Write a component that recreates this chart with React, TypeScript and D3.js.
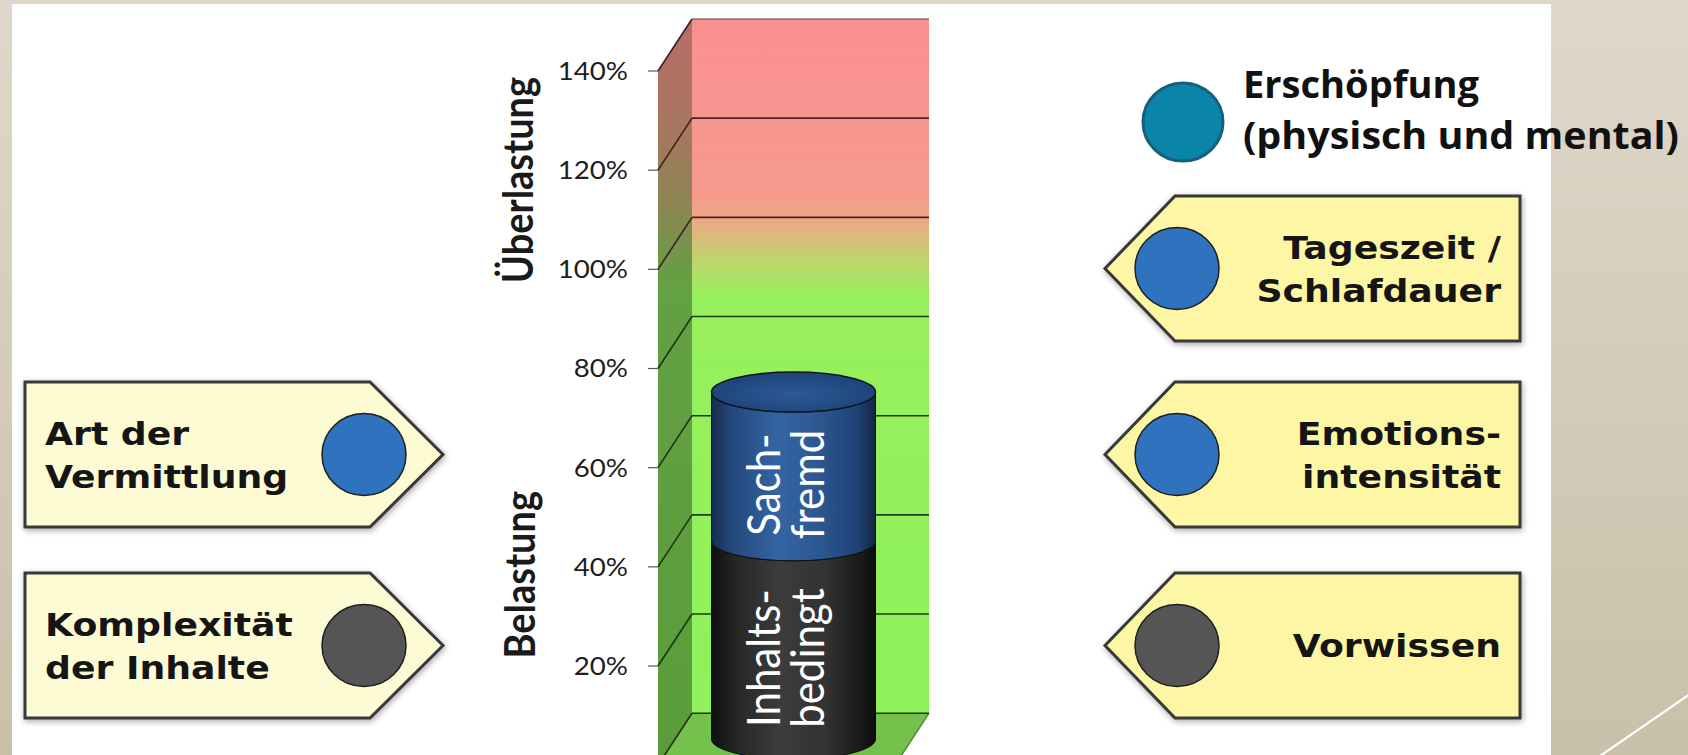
import React from 'react';
import * as d3 from 'd3';

const W = 1688;
const H = 755;

// ---- data ----
const gridValues = [0, 20, 40, 60, 80, 100, 120, 140];
const tickValues = [20, 40, 60, 80, 100, 120, 140];
const tickLabels = ['20%', '40%', '60%', '80%', '100%', '120%', '140%'];
const axisTitles = ['Belastung', 'Überlastung'];
const axisTitleCenters = [38.4, 118];
const category = ['Belastung'];
const segmentKeys = ['inhalt', 'sach'];
const segmentNames = [['Inhalts-', 'bedingt'], ['Sach-', 'fremd']];
const segmentValues = [40, 30];
const leftBoxLabels = [['Art der', 'Vermittlung'], ['Komplexität', 'der Inhalte']];
const leftBoxRows = [1, 2];
const leftBoxDots = ['blue', 'gray'];
const rightBoxLabels = [['Tageszeit /', 'Schlafdauer'], ['Emotions-', 'intensität'], ['Vorwissen']];
const rightBoxRows = [0, 1, 2];
const rightBoxDots = ['blue', 'blue', 'gray'];
const legendLabel = ['Erschöpfung', '(physisch und mental)'];

const DOT_COLORS: Record<string, string> = { blue: '#2f72bd', gray: '#555555' };

export default function App() {
  React.useEffect(() => {
    document.body.style.margin = '0';
    document.body.style.overflow = 'hidden';
  }, []);

  // vertical value scale on the front plane of the 3D chart
  const y = d3.scaleLinear().domain([0, 140]).range([765.2, 71]);
  const DX = 34;
  const DY = -52;
  const xF0 = 658;
  const xF1 = 895;
  const xB0 = xF0 + DX;
  const xB1 = xF1 + DX;
  const yB = (v: number) => y(v) + DY;
  const yM = (v: number) => y(v) + DY / 2;

  const xBand = d3
    .scaleBand<string>()
    .domain(category)
    .range([xF0 + DX / 2, xF1 + DX / 2])
    .paddingOuter(0.2226)
    .paddingInner(0);
  const cylX0 = xBand(category[0]) as number;
  const cylW = xBand.bandwidth();
  const cylCx = cylX0 + cylW / 2;
  const rx = cylW / 2;
  const ry = 20;

  const row: Record<string, number> = {};
  segmentKeys.forEach((k, i) => (row[k] = segmentValues[i]));
  const stacked = d3.stack<Record<string, number>>().keys(segmentKeys)([row]);

  // boxes
  const rowTop = d3.scaleLinear().domain([0, 1, 2]).range([196, 382, 573]);
  const BOX_H = 145;
  const leftRect = [25, 370];
  const leftTip = 443;
  const rightRect = [1175, 1520];
  const rightTip = 1105;

  const leftBoxPath = (top: number) =>
    `M${leftRect[0]},${top} L${leftRect[1]},${top} L${leftTip},${top + BOX_H / 2} L${leftRect[1]},${top + BOX_H} L${leftRect[0]},${top + BOX_H} Z`;
  const rightBoxPath = (top: number) =>
    `M${rightRect[1]},${top} L${rightRect[0]},${top} L${rightTip},${top + BOX_H / 2} L${rightRect[0]},${top + BOX_H} L${rightRect[1]},${top + BOX_H} Z`;

  const bodyPath = (v0: number, v1: number) => {
    const yt = yM(v1);
    const yb = yM(v0);
    const l = cylCx - rx;
    const r = cylCx + rx;
    return `M${l},${yt} A${rx},${ry} 0 0 0 ${r},${yt} L${r},${yb} A${rx},${ry} 0 0 1 ${l},${yb} Z`;
  };

  const boxText = (lines: string[], top: number, anchor: 'start' | 'end', x: number) => {
    const center = top + BOX_H / 2;
    const lh = 43;
    const first = center + 11.5 - ((lines.length - 1) * lh) / 2;
    return lines.map((t, i) => (
      <text
        key={t}
        transform={`translate(${x},${first + i * lh}) scale(1.15,1)`}
        textAnchor={anchor}
        fontFamily="'DejaVu Sans', Verdana, sans-serif"
        fontWeight="bold"
        fontSize={31.5}
        fill="#151515"
      >
        {t}
      </text>
    ));
  };

  return (
    <svg
      width={W}
      height={H}
      viewBox={`0 0 ${W} ${H}`}
      style={{ position: 'absolute', left: 0, top: 0, display: 'block' }}
    >
      <defs>
        <linearGradient id="bg" x1="0" y1="0" x2="0" y2="1">
          <stop offset="0" stopColor="#dfd8ca" />
          <stop offset="1" stopColor="#c9c0a9" />
        </linearGradient>
        <linearGradient id="backWall" gradientUnits="userSpaceOnUse" x1="0" y1={yB(140)} x2="0" y2={yB(0)}>
          <stop offset="0" stopColor="#fa9090" />
          <stop offset={(195 - 19) / 694} stopColor="#f69a8e" />
          <stop offset={(222 - 19) / 694} stopColor="#ebab82" />
          <stop offset={(255 - 19) / 694} stopColor="#c4d070" />
          <stop offset={(295 - 19) / 694} stopColor="#97ef5c" />
          <stop offset="1" stopColor="#8ef25a" />
        </linearGradient>
        <linearGradient id="sideWall" gradientUnits="userSpaceOnUse" x1="0" y1={yB(140)} x2="0" y2={y(0)}>
          <stop offset="0" stopColor="#b86e68" />
          <stop offset={(130 - 19) / 746} stopColor="#a8775f" />
          <stop offset={(210 - 19) / 746} stopColor="#8a8752" />
          <stop offset={(280 - 19) / 746} stopColor="#64a044" />
          <stop offset="1" stopColor="#5a9c3a" />
        </linearGradient>
        <linearGradient id="cyl-sach" x1="0" y1="0" x2="1" y2="0">
          <stop offset="0" stopColor="#162d4e" />
          <stop offset="0.12" stopColor="#23467a" />
          <stop offset="0.4" stopColor="#3465a3" />
          <stop offset="0.62" stopColor="#2d5a94" />
          <stop offset="0.88" stopColor="#214477" />
          <stop offset="1" stopColor="#132744" />
        </linearGradient>
        <linearGradient id="cyl-inhalt" x1="0" y1="0" x2="1" y2="0">
          <stop offset="0" stopColor="#101010" />
          <stop offset="0.15" stopColor="#262626" />
          <stop offset="0.42" stopColor="#3c3c3c" />
          <stop offset="0.7" stopColor="#323232" />
          <stop offset="1" stopColor="#0e0e0e" />
        </linearGradient>
        <radialGradient id="cylTop" cx="0.5" cy="0.55" r="0.6">
          <stop offset="0" stopColor="#2b5a96" />
          <stop offset="1" stopColor="#1d4175" />
        </radialGradient>
        <filter id="boxShadow" x="-10%" y="-10%" width="120%" height="125%">
          <feGaussianBlur in="SourceAlpha" stdDeviation="3" />
          <feOffset dx="1" dy="2" result="b" />
          <feComponentTransfer>
            <feFuncA type="linear" slope="0.35" />
          </feComponentTransfer>
          <feMerge>
            <feMergeNode />
            <feMergeNode in="SourceGraphic" />
          </feMerge>
        </filter>
      </defs>

      {/* background */}
      <rect x={0} y={0} width={W} height={H} fill="url(#bg)" />
      <rect x={12} y={4} width={1551 - 12} height={H - 4} fill="#ffffff" />
      <line x1={1600} y1={756} x2={1690} y2={694} stroke="#ffffff" strokeWidth={2.2} />

      {/* 3D chart walls */}
      <polygon
        points={`${xB0},${yB(140)} ${xB1},${yB(140)} ${xB1},${yB(0)} ${xB0},${yB(0)}`}
        fill="url(#backWall)"
      />
      <polygon
        points={`${xF0},${y(140)} ${xB0},${yB(140)} ${xB0},${yB(0)} ${xF0},${y(0)}`}
        fill="url(#sideWall)"
      />
      <polygon
        points={`${xF0},${y(0)} ${xB0},${yB(0)} ${xB1},${yB(0)} ${xF1},${y(0)}`}
        fill="#74c14b"
      />
      <line x1={xB1} y1={yB(0)} x2={xF1} y2={y(0)} stroke="#4e8a30" strokeWidth={1.5} />

      {/* gridlines */}
      {gridValues.map((v) => (
        <g key={`g${v}`}>
          {v < 140 && (
            <line
              x1={xB0}
              x2={xB1}
              y1={yB(v)}
              y2={yB(v)}
              stroke={v >= 100 ? '#4a2424' : '#203818'}
              strokeWidth={1.6}
            />
          )}
          <line x1={xF0} y1={y(v)} x2={xB0} y2={yB(v)} stroke={v >= 100 ? '#3a2020' : '#1e3414'} strokeWidth={1.6} />
          <line x1={xF0 - 10} x2={xF0} y1={y(v)} y2={y(v)} stroke="#555" strokeWidth={1.2} />
        </g>
      ))}
      <line x1={xB0} x2={xB1} y1={yB(140)} y2={yB(140)} stroke="#5a3a3a" strokeWidth={1.2} />

      {/* axis tick labels */}
      {tickValues.map((v, i) => (
        <text
          key={`t${v}`}
          transform={`translate(628,${y(v)}) scale(1.13,1)`}
          dy="0.36em"
          textAnchor="end"
          fontFamily="Lato, 'Open Sans', sans-serif"
          fontSize={24.5}
          fill="#1e1e1e"
        >
          {tickLabels[i]}
        </text>
      ))}

      {/* axis titles */}
      {axisTitles.map((t, i) => (
        <text
          key={t}
          transform={`translate(${i === 0 ? 535 : 533},${y(axisTitleCenters[i])}) scale(1.13,1) rotate(-90)`}
          textAnchor="middle"
          fontFamily="Lato, 'Open Sans', sans-serif"
          fontWeight="bold"
          fontSize={38}
          fill="#1a1a1a"
        >
          {t}
        </text>
      ))}

      {/* cylinder */}
      {stacked.map((s, i) => {
        const [v0, v1] = s[0];
        const mid = (yM(v0) + yM(v1)) / 2 + 18;
        return (
          <g key={s.key}>
            <path d={bodyPath(v0, v1)} fill={`url(#cyl-${s.key})`} stroke="#0c0c0c" strokeWidth={1} />
            {segmentNames[i].map((ln, j) => (
              <text
                key={ln}
                transform={`translate(${cylCx - 14 + j * 44},${mid}) scale(1.1,1) rotate(-90)`}
                textAnchor="middle"
                fontFamily="Lato, 'Open Sans', sans-serif"
                fontSize={42}
                fill="#ffffff"
              >
                {ln}
              </text>
            ))}
          </g>
        );
      })}
      <ellipse
        cx={cylCx}
        cy={yM(stacked[stacked.length - 1][0][1])}
        rx={rx}
        ry={ry}
        fill="url(#cylTop)"
        stroke="#0c1624"
        strokeWidth={1.5}
      />

      {/* left boxes */}
      {leftBoxLabels.map((lines, i) => {
        const top = rowTop(leftBoxRows[i]);
        return (
          <g key={lines.join()}>
            <path d={leftBoxPath(top)} fill="#fcfbd3" stroke="#383838" strokeWidth={3} filter="url(#boxShadow)" />
            <ellipse
              cx={364}
              cy={top + BOX_H / 2}
              rx={42}
              ry={41}
              fill={DOT_COLORS[leftBoxDots[i]]}
              stroke="#1e1e1e"
              strokeWidth={1.5}
            />
            {boxText(lines, top, 'start', 45)}
          </g>
        );
      })}

      {/* right boxes */}
      {rightBoxLabels.map((lines, i) => {
        const top = rowTop(rightBoxRows[i]);
        return (
          <g key={lines.join()}>
            <path d={rightBoxPath(top)} fill="#fdf7a5" stroke="#383838" strokeWidth={3} filter="url(#boxShadow)" />
            <ellipse
              cx={1177}
              cy={top + BOX_H / 2}
              rx={42}
              ry={41}
              fill={DOT_COLORS[rightBoxDots[i]]}
              stroke="#1e1e1e"
              strokeWidth={1.5}
            />
            {boxText(lines, top, 'end', 1501)}
          </g>
        );
      })}

      {/* Erschöpfung legend */}
      <ellipse cx={1183} cy={122} rx={40} ry={39} fill="#0a84a8" stroke="#17607a" strokeWidth={3} />
      {legendLabel.map((t, i) => (
        <text
          key={t}
          x={1243}
          y={98 + i * 51}
          textLength={i === 0 ? 236 : 436}
          lengthAdjust="spacingAndGlyphs"
          fontFamily="'Open Sans', 'DejaVu Sans', sans-serif"
          fontWeight="bold"
          fontSize={37}
          fill="#111"
        >
          {t}
        </text>
      ))}
    </svg>
  );
}
